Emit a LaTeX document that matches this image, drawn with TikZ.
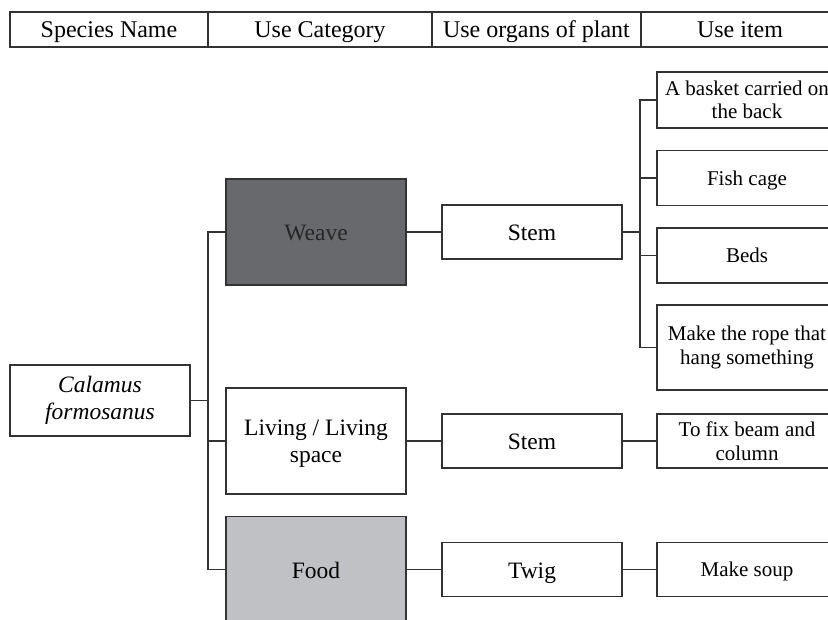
\documentclass[tikz,border=0pt]{standalone}
\usepackage{fontspec}
\setmainfont{Liberation Serif}
\begin{document}
\begin{tikzpicture}[x=1pt,y=-1pt,
  line/.style={draw=black!80, line width=1.1pt},
  hdr/.style={draw=black!80, line width=1.2pt, minimum height=35pt, inner sep=0pt,
    text height=20.5pt, text depth=5pt,
    font=\fontsize{24}{27}\selectfont},
  box/.style={draw=black!80, line width=1.1pt, inner sep=2pt, align=center,
    font=\fontsize{23.5}{27}\selectfont},
  oneline/.style={text height=22pt, text depth=5pt},
  smallline/.style={text height=18.5pt, text depth=4.5pt},
  catbox/.style={box, minimum width=180pt, minimum height=106pt},
  organbox/.style={box, oneline, minimum width=180pt, minimum height=54pt},
  itembox/.style={box, minimum width=180pt, font=\fontsize{21}{23.5}\selectfont},
]
\useasboundingbox (0,0) rectangle (828,619);
\clip (0,0) rectangle (828,619);
\definecolor{weavegray}{HTML}{68696D}
\definecolor{foodgray}{HTML}{C0C1C4}

% header row
\node[hdr, minimum width=198pt] (h1) at (109,29.5) {Species Name};
\node[hdr, minimum width=224pt] (h2) at (320,29.5) {Use Category};
\node[hdr, minimum width=209pt] (h3) at (536.5,29.5) {Use organs of plant};
\node[hdr, minimum width=198pt] (h4) at (740,29.5) {Use item};

% species
\node[box, minimum width=180pt, minimum height=71pt] (sp) at (100,400.5)
  {\itshape Calamus\\\itshape formosanus};

% use categories
\node[catbox, oneline, fill=weavegray, text=black!85] (weave) at (316,232) {Weave};
\node[catbox, text depth=0pt] (living) at (316,441) {Living / Living\\space};
\node[catbox, oneline, fill=foodgray] (food) at (316,569.5) {Food};

% organs
\node[organbox] (stem1) at (532,232) {Stem};
\node[organbox] (stem2) at (532,441) {Stem};
\node[organbox] (twig) at (532,569.5) {Twig};

% use items
\node[itembox, minimum height=56pt] (basket) at (747,100) {A basket carried on\\the back};
\node[itembox, smallline, minimum height=55pt] (fish) at (747,178) {Fish cage};
\node[itembox, smallline, minimum height=55pt] (beds) at (747,255.5) {Beds};
\node[itembox, minimum height=85pt] (rope) at (747,347.5) {Make the rope that\\hang something};
\node[itembox, minimum height=54pt] (beam) at (747,441) {To fix beam and\\column};
\node[itembox, smallline, minimum height=54pt] (soup) at (747,569.5) {Make soup};

% species to categories
\coordinate (j1) at (208,400.5);
\draw[line] (sp.east) -- (j1);
\draw[line] (weave.west) -| (j1) |- (food.west);
\draw[line] (j1 |- living.west) -- (living.west);

% categories to organs
\draw[line] (weave.east) -- (stem1.west);
\draw[line] (living.east) -- (stem2.west);
\draw[line] (food.east) -- (twig.west);

% organs to items
\coordinate (j2) at (640,232);
\draw[line] (stem1.east) -- (j2);
\draw[line] (basket.west) -| (j2) |- (rope.west);
\draw[line] (j2 |- fish.west) -- (fish.west);
\draw[line] (j2 |- beds.west) -- (beds.west);
\draw[line] (stem2.east) -- (beam.west);
\draw[line] (twig.east) -- (soup.west);
\end{tikzpicture}
\end{document}
